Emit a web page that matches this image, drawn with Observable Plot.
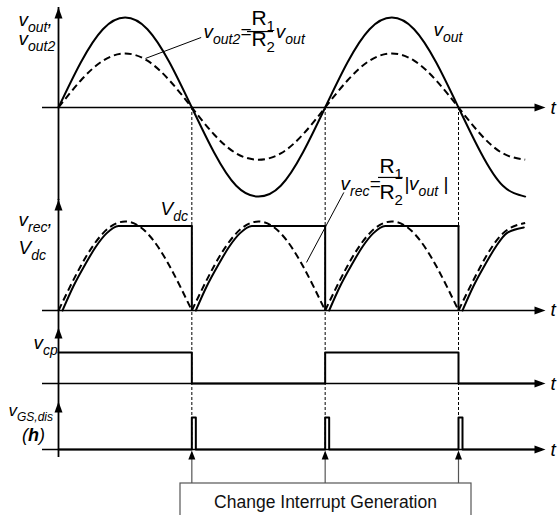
<!DOCTYPE html>
<html><head><meta charset="utf-8">
<script src="https://cdn.jsdelivr.net/npm/d3@7"></script>
<script src="https://cdn.jsdelivr.net/npm/@observablehq/plot@0.6"></script>
<style>
html,body{margin:0;padding:0;background:#fff;}
#chart{position:relative;width:558px;height:515px;overflow:hidden;background:#fff;}
#chart svg{position:absolute;left:0;top:0;}
</style></head><body><div id="chart"></div>
<script>
// ---- data (time t in half-periods of v_out; zero crossings at t = 0,1,2,3) ----
const tGrid = [0,0.167,0.333,0.5,0.667,0.833,1,1.167,1.333,1.5,1.667,1.833,2,2.167,2.333,2.5,2.667,2.833,3,3.167,3.333,3.5];
const vOut  = [0,0.5,0.87,1,0.87,0.5,0,-0.5,-0.87,-0.99,-0.87,-0.5,0,0.5,0.87,1,0.87,0.5,0,-0.5,-0.87,-0.99];
const vOut2 = [0,0.3,0.52,0.6,0.52,0.3,0,-0.3,-0.51,-0.58,-0.51,-0.3,0,0.3,0.52,0.6,0.52,0.3,0,-0.3,-0.51,-0.58];
const vRec  = [0,0.3,0.52,0.6,0.52,0.3,0,0.3,0.52,0.6,0.52,0.3,0,0.3,0.52,0.6,0.52,0.3,0,0.3,0.52,0.59];
const vDcT  = [0.03,0.11,0.2,0.28,0.36,0.45,1, 1.03,1.11,1.2,1.28,1.36,1.45,2, 2.03,2.11,2.2,2.28,2.36,2.45,3, 3.03,3.11,3.2,3.28,3.36,3.49];
const vDcV  = [0,0.16,0.31,0.43,0.52,0.57,0.57, 0,0.16,0.31,0.43,0.52,0.57,0.57, 0,0.16,0.31,0.43,0.52,0.57,0.57, 0,0.16,0.31,0.43,0.52,0.56];
const Vdc   = 0.57;
const edges = [1,2,3];               // interrupt instants (zero crossings)
const vCpT  = [0,1,2,3,3.62];
const vCpV  = [1,0,1,0,0];
const vGsT  = [0,1,1.03,2,2.03,3,3.03,3.62];
const vGsV  = [0,1,0,1,0,1,0,0];
const boxLabel = "Change Interrupt Generation";

// ---- tables ----
const wave = tGrid.map((t,i)=>({t, vout:vOut[i], vout2:vOut2[i]}));
const rec = [];
tGrid.forEach((t,i)=>{ const s=Math.floor(t); rec.push({t,v:vRec[i],seg:s}); if(Number.isInteger(t)&&t>0) rec.push({t,v:vRec[i],seg:s-1}); });
const dc = vDcT.map((t,i)=>({t, v:vDcV[i], seg:Math.ceil(t)-1}));
const cp = vCpT.map((t,i)=>({t, v:vCpV[i]}));
const gs = vGsT.map((t,i)=>({t, v:vGsV[i]}));

// ---- styling helpers ----
const FONT = "Liberation Sans, Arial, Helvetica, sans-serif";
const arrowRight = {draw(c){c.moveTo(0,0);c.lineTo(-11,-4);c.lineTo(-11,4);c.closePath();}};
const arrowUp    = {draw(c){c.moveTo(0,0);c.lineTo(-4,11);c.lineTo(4,11);c.closePath();}};
const arrowUpSm  = {draw(c){c.moveTo(0,0);c.lineTo(-3.5,9);c.lineTo(3.5,9);c.closePath();}};
const one = [{}];
const K = v => () => v;

function txt(t, y, s, o={}) {
  return Plot.text(one, {x:K(t), y:K(y), text:K(s), fontFamily:FONT, fontSize:19, fontStyle:"italic",
    lineAnchor:"bottom", textAnchor:"start", fill:"black", ...o});
}
function axes(yBottom, yTip, tY) {
  return [
    Plot.ruleY(one, {y:K(0), x1:K(-0.12), x2:K(3.6), stroke:"black", strokeWidth:1.5}),
    Plot.dot(one, {x:K(3.6525), y:K(0), symbol:arrowRight, r:5, fill:"black", stroke:"none"}),
    Plot.ruleX(one, {x:K(0), y1:K(yBottom), y2:K(yTip), stroke:"black", strokeWidth:1.8}),
    Plot.dot(one, {x:K(0), y:K(yTip), symbol:arrowUp, r:5, fill:"black", stroke:"none"}),
    txt(3.69, tY, "t")
  ];
}
function layer(ydom, yrange, marks) {
  return Plot.plot({width:558, height:515, margin:0,
    x:{domain:[0,3], range:[58,458], axis:null},
    y:{domain:ydom, range:yrange, axis:null},
    style:{background:"transparent", overflow:"visible"}, marks});
}

// ---- panel 1: v_out, v_out2 ----
const p1 = layer([-1,1],[197,17],[
  Plot.ruleX(edges, {x:d=>d, y1:K(0), y2:K(-3.8), stroke:"black", strokeWidth:1, strokeDasharray:"3,2"}),
  ...axes(-1.033, 1.111, -0.067),
  Plot.line(wave, {x:"t", y:"vout2", curve:"natural", stroke:"black", strokeWidth:2, strokeDasharray:"7,4", strokeLinecap:"butt"}),
  Plot.line(wave, {x:"t", y:"vout", curve:"natural", stroke:"black", strokeWidth:2}),
  Plot.link(one, {x1:K(0.6525), y1:K(0.545), x2:K(1.07), y2:K(0.778), stroke:"black", strokeWidth:1}),
  txt(-0.3, 0.911, "v_{out},"),
  txt(-0.3, 0.689, "v_{out2}"),
  txt(1.0875, 0.767, "v_{out2}="),
  txt(1.535, 0.922, "R_{1}", {textAnchor:"middle", fontStyle:"normal", fontSize:21}),
  Plot.ruleY(one, {y:K(0.844), x1:K(1.4175), x2:K(1.6125), stroke:"black", strokeWidth:1.2}),
  txt(1.535, 0.68, "R_{2}", {textAnchor:"middle", fontStyle:"normal", fontSize:21}),
  txt(1.63, 0.767, "v_{out}"),
  txt(2.8125, 0.789, "v_{out}")
]);

// ---- panel 2: v_rec, V_dc ----
const p2 = layer([0,0.6],[310,221],[
  ...axes(-0.115, 0.749, -0.04),
  Plot.line(rec, {x:"t", y:"v", z:"seg", curve:"natural", stroke:"black", strokeWidth:2, strokeDasharray:"7,4", strokeLinecap:"butt"}),
  Plot.line(dc, {x:"t", y:"v", z:"seg", curve:"monotone-x", stroke:"black", strokeWidth:2}),
  Plot.ruleX(edges, {x:d=>d, y1:K(0), y2:K(Vdc), stroke:"black", strokeWidth:2}),
  Plot.link(one, {x1:K(2.14), y1:K(0.796), x2:K(1.86), y2:K(0.324), stroke:"black", strokeWidth:1}),
  txt(-0.3, 0.573, "v_{rec},"),
  txt(-0.3, 0.384, "V_{dc}"),
  txt(0.765, 0.641, "V_{dc}"),
  txt(2.115, 0.809, "v_{rec}="),
  txt(2.495, 0.924, "R_{1}", {textAnchor:"middle", fontStyle:"normal", fontSize:21}),
  Plot.ruleY(one, {y:K(0.897), x1:K(2.4), x2:K(2.585), stroke:"black", strokeWidth:1.2}),
  txt(2.495, 0.75, "R_{2}", {textAnchor:"middle", fontStyle:"normal", fontSize:21}),
  txt(2.5925, 0.809, "|v_{out} |")
]);

// ---- panel 3: v_cp ----
const p3 = layer([0,1],[383,352],[
  ...axes(-0.58, 1.806, -0.194),
  Plot.line(cp, {x:"t", y:"v", curve:"step-after", stroke:"black", strokeWidth:2}),
  txt(-0.1875, 1.129, "v_{cp}")
]);

// ---- panel 4: v_GS,dis and interrupt box ----
const p4 = layer([0,1],[449,417],[
  ...axes(-0.25, 1.5, -0.1875),
  Plot.line(gs, {x:"t", y:"v", curve:"step-after", stroke:"black", strokeWidth:2}),
  txt(-0.375, 1.0625, "v_{GS,dis}", {fontSize:17}),
  txt(-0.1875, 0.28, "(!{h})", {textAnchor:"middle", fontSize:18}),
  Plot.ruleX(edges, {x:d=>d, y1:K(-1.0625), y2:K(-0.12), stroke:"#555", strokeWidth:1.2}),
  Plot.dot(edges, {x:d=>d, y:K(-0.03), symbol:arrowUpSm, r:5, fill:"black", stroke:"none"}),
  Plot.rect(one, {x1:K(0.915), x2:K(3.0975), y1:K(-1.0625), y2:K(-2.2), fill:"white", stroke:"#555", strokeWidth:1.2}),
  Plot.text(one, {x:K(2.0025), y:K(-1.8125), text:K(boxLabel), fontFamily:FONT, fontSize:17.5, lineAnchor:"bottom", textAnchor:"middle", fill:"#111"})
]);

const chart = document.getElementById("chart");
[p1,p2,p3,p4].forEach(p=>chart.appendChild(p));

// subscripts / bold via tspans
function richify(svg){
  svg.querySelectorAll("text").forEach(el=>{
    const s = el.textContent;
    if(!/[_!]\{/.test(s)) return;
    const fs = parseFloat(getComputedStyle(el).fontSize) || 19;
    const subFs = Math.round(fs*0.72);
    const shift = Math.round(fs*0.3);
    el.textContent = "";
    let cur = 0;
    const re = /([_!])\{([^}]*)\}|([^_!]+|[_!])/g; let m;
    while((m = re.exec(s))){
      const ts = document.createElementNS("http://www.w3.org/2000/svg","tspan");
      let target = 0;
      if(m[1]==="_"){ target = shift; ts.setAttribute("font-size", subFs); ts.textContent = m[2]; }
      else if(m[1]==="!"){ ts.setAttribute("font-weight","bold"); ts.textContent = m[2]; }
      else ts.textContent = m[3];
      if(target!==cur){ ts.setAttribute("dy", target-cur); cur = target; }
      el.appendChild(ts);
    }
  });
}
[p1,p2,p3,p4].forEach(richify);
</script></body></html>
